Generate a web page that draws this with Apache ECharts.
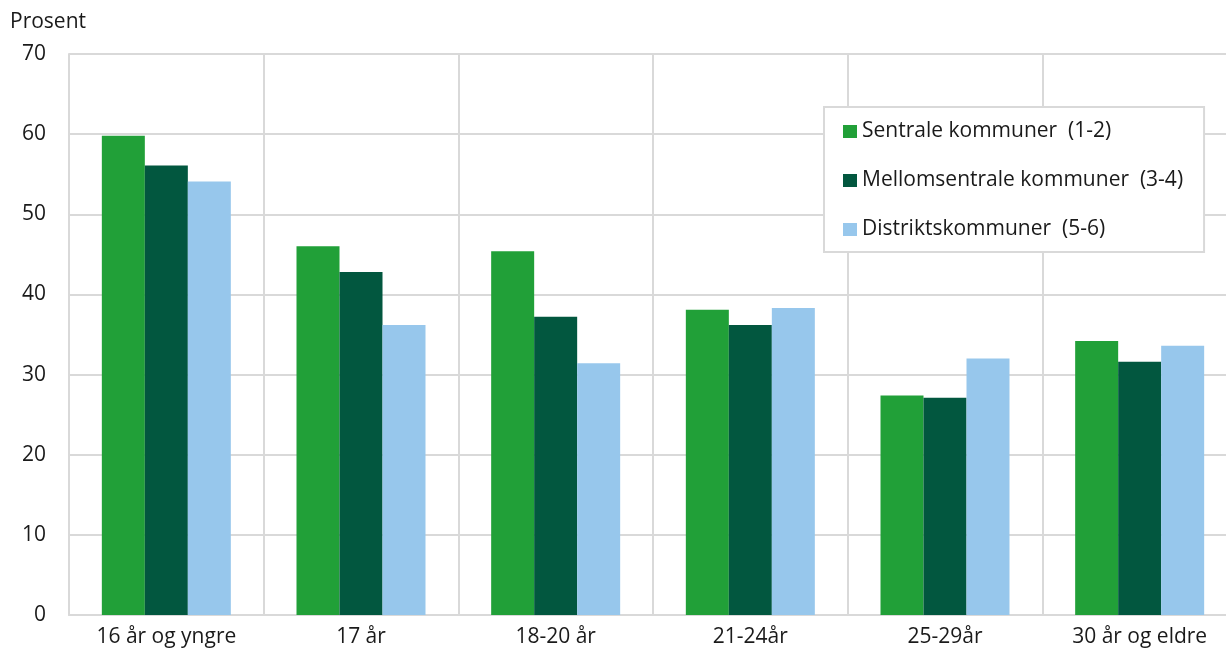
<!DOCTYPE html>
<html>
<head>
<meta charset="utf-8">
<script src="https://cdn.jsdelivr.net/npm/echarts@6/dist/echarts.min.js"></script>
<style>
html,body{margin:0;padding:0;background:#fff;overflow:hidden;}
#chart{width:1237px;height:650px;}
</style>
</head>
<body>
<div id="chart"></div>
<script>
const categories = ['16 år og yngre', '17 år', '18-20 år', '21-24år', '25-29år', '30 år og eldre'];
const seriesNames = ['Sentrale kommuner  (1-2)', 'Mellomsentrale kommuner  (3-4)', 'Distriktskommuner  (5-6)'];
const sentrale = [59.8, 46.0, 45.4, 38.1, 27.4, 34.2];
const mellomsentrale = [56.1, 42.8, 37.2, 36.2, 27.1, 31.6];
const distrikt = [54.1, 36.2, 31.4, 38.3, 32.0, 33.6];
const colors = ['#21a038', '#02573f', '#97c7ec'];

const font = '"Open Sans", "Noto Sans", sans-serif';
const chart = echarts.init(document.getElementById('chart'), null, {renderer: 'canvas'});
chart.setOption({
  animation: false,
  textStyle: {fontFamily: font},
  grid: {left: 69, right: 0, top: 54, bottom: 35, containLabel: false},
  graphic: [{
    type: 'text', left: 10, top: 12,
    style: {text: 'Prosent', fontSize: 21, fontFamily: font, fill: '#1a1a1a'}
  }],
  legend: {
    orient: 'vertical',
    left: 824, top: 107,
    padding: [14, 21, 12, 19],
    itemGap: 28,
    itemWidth: 14, itemHeight: 13,
    icon: 'rect',
    borderColor: '#d9d9d9', borderWidth: 2,
    backgroundColor: '#fff',
    textStyle: {fontSize: 21, fontFamily: font, color: '#1a1a1a'},
    data: seriesNames
  },
  xAxis: {
    type: 'category',
    data: categories,
    axisLine: {lineStyle: {color: '#d9d9d9', width: 2}},
    axisTick: {show: false},
    axisLabel: {fontSize: 21, color: '#1a1a1a', margin: 12, fontFamily: font},
    splitLine: {show: true, lineStyle: {color: '#d9d9d9', width: 2}}
  },
  yAxis: {
    type: 'value',
    min: 0, max: 70, interval: 10,
    axisLine: {show: true, lineStyle: {color: '#d9d9d9', width: 2}},
    axisTick: {show: false},
    axisLabel: {fontSize: 21, color: '#1a1a1a', margin: 23, fontFamily: font},
    splitLine: {show: true, lineStyle: {color: '#d9d9d9', width: 2}}
  },
  series: [
    {name: seriesNames[0], type: 'bar', data: sentrale, barWidth: 43, barGap: '0%', itemStyle: {color: colors[0]}},
    {name: seriesNames[1], type: 'bar', data: mellomsentrale, barWidth: 43, barGap: '0%', itemStyle: {color: colors[1]}},
    {name: seriesNames[2], type: 'bar', data: distrikt, barWidth: 43, barGap: '0%', itemStyle: {color: colors[2]}}
  ]
});
</script>
</body>
</html>
